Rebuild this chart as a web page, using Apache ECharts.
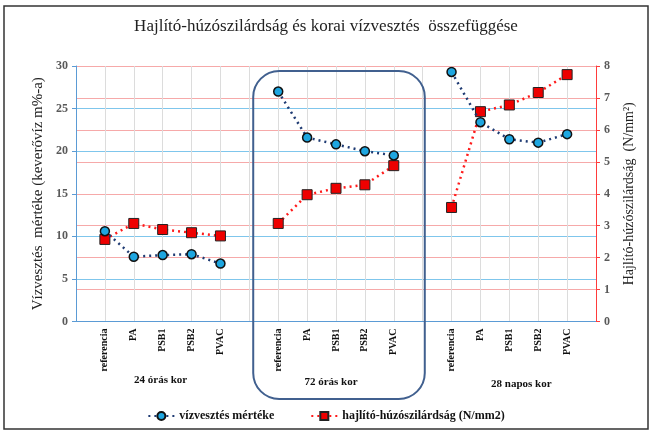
<!DOCTYPE html>
<html>
<head>
<meta charset="utf-8">
<script src="https://cdn.jsdelivr.net/npm/echarts@6/dist/echarts.min.js"></script>
<style>
  html, body { margin: 0; padding: 0; background: #fff; }
  #chart { width: 652px; height: 432px; }
</style>
</head>
<body>
<div id="chart"></div>
<script>
// mixtures inside each age group
const mixes = ['referencia', 'PA', 'PSB1', 'PSB2', 'PVAC']
const groups = ['24 órás kor', '72 órás kor', '28 napos kor']

// vízvesztés mértéke (keverővíz m%-a), left axis
const waterLoss24 = [10.6, 7.6, 7.8, 7.9, 6.8]
const waterLoss72 = [27.0, 21.6, 20.8, 20.0, 19.5]
const waterLoss28 = [29.3, 23.4, 21.4, 21.0, 22.0]

// hajlító-húzószilárdság (N/mm2), right axis
const strength24 = [2.57, 3.07, 2.88, 2.78, 2.68]
const strength72 = [3.07, 3.97, 4.17, 4.28, 4.88]
const strength28 = [3.57, 6.57, 6.78, 7.17, 7.73]

const leftTicks = { min: 0, max: 30, interval: 5 }
const rightTicks = { min: 0, max: 8, interval: 1 }

// one empty slot before, between and after the groups
function spread(a, b, c) {
  return [null].concat(a, [null], b, [null], c, [null])
}
const categories = spread(mixes, mixes, mixes).map(v => v === null ? '' : v)
const waterLoss = spread(waterLoss24, waterLoss72, waterLoss28)
const strength = spread(strength24, strength72, strength28)

const serif = '"Liberation Serif", "DejaVu Serif", serif'
const chart = echarts.init(document.getElementById('chart'))

chart.setOption({
  animation: false,
  textStyle: { fontFamily: serif },
  title: {
    text: 'Hajlító-húzószilárdság és korai vízvesztés  összefüggése',
    left: 'center', top: 13,
    textStyle: { fontFamily: serif, fontSize: 17, fontWeight: 'normal', color: '#222' },
  },
  grid: { left: 76, right: 56, top: 66, bottom: 110.5 },
  legend: {
    bottom: 5, left: 'center', itemGap: 36, itemWidth: 26, itemHeight: 10,
    textStyle: { fontFamily: serif, fontSize: 12, fontWeight: 'bold', color: '#111' },
    data: ['vízvesztés mértéke', 'hajlító-húzószilárdság (N/mm2)'],
  },
  xAxis: {
    type: 'category',
    data: categories,
    boundaryGap: false,
    axisLine: { lineStyle: { color: '#5b9bd5' } },
    axisTick: { show: false },
    axisLabel: {
      interval: 0, rotate: 90, margin: 7,
      fontFamily: serif, fontSize: 10, fontWeight: 'bold', color: '#111',
    },
    splitLine: { show: true, lineStyle: { color: '#dcdcdc' } },
  },
  yAxis: [{
    type: 'value', ...leftTicks,
    name: 'Vízvesztés  mértéke (keverővíz m%-a)',
    nameLocation: 'middle', nameGap: 28, nameRotate: 90,
    nameTextStyle: { fontFamily: serif, fontSize: 15, color: '#222' },
    axisLine: { show: true, lineStyle: { color: '#5b9bd5' } },
    axisTick: { show: true, length: 4, lineStyle: { color: '#5b9bd5' } },
    axisLabel: { fontFamily: serif, fontSize: 12, fontWeight: 'bold', color: '#595959', margin: 8 },
    splitLine: { lineStyle: { color: '#7fc6ec' } },
  }, {
    type: 'value', ...rightTicks,
    name: 'Hajlító-húzószilárdság  (N/mm²)',
    nameLocation: 'middle', nameGap: 26, nameRotate: 90,
    nameTextStyle: { fontFamily: serif, fontSize: 14, color: '#222' },
    axisLine: { show: true, lineStyle: { color: '#ff3b3b' } },
    axisTick: { show: true, length: 4, lineStyle: { color: '#ff3b3b' } },
    axisLabel: { fontFamily: serif, fontSize: 12, fontWeight: 'bold', color: '#595959', margin: 8 },
    splitLine: { lineStyle: { color: '#f6a9a9' } },
  }],
  series: [{
    name: 'vízvesztés mértéke',
    type: 'line', yAxisIndex: 0, data: waterLoss,
    symbol: 'circle', symbolSize: 9,
    lineStyle: { color: '#1f3b73', width: 2.5, type: [2, 4] },
    itemStyle: { color: '#1ea6e0', borderColor: '#111', borderWidth: 1.5 },
    z: 3,
  }, {
    name: 'hajlító-húzószilárdság (N/mm2)',
    type: 'line', yAxisIndex: 1, data: strength,
    symbol: 'rect', symbolSize: 10,
    lineStyle: { color: '#ff1a1a', width: 2.5, type: [2, 4] },
    itemStyle: { color: '#ee0000', borderColor: '#222', borderWidth: 1 },
    z: 2,
  }],
})

// group captions under the rotated labels, box round the 72-hour group
const mid = i => chart.convertToPixel({ xAxisIndex: 0 }, i)
const captionY = [375, 377, 379]
const captionShift = [-2, -5, 12]
const graphics = groups.map((g, k) => ({
  type: 'text',
  x: mid(3 + 6 * k) + captionShift[k], y: captionY[k],
  style: { text: g, fill: '#111', font: 'bold 11px ' + serif, align: 'center' },
}))
const x0 = mid(7) - 25, x1 = mid(11) + 31
graphics.push({
  type: 'rect',
  shape: { x: x0, y: 71, width: x1 - x0, height: 328, r: 26 },
  style: { fill: 'none', stroke: '#41608f', lineWidth: 2 },
  z: 10,
})
graphics.push({
  type: 'rect',
  shape: { x: 4, y: 6, width: 644, height: 423 },
  style: { fill: 'none', stroke: '#333', lineWidth: 1.5 },
})
chart.setOption({ graphic: graphics })
</script>
</body>
</html>
